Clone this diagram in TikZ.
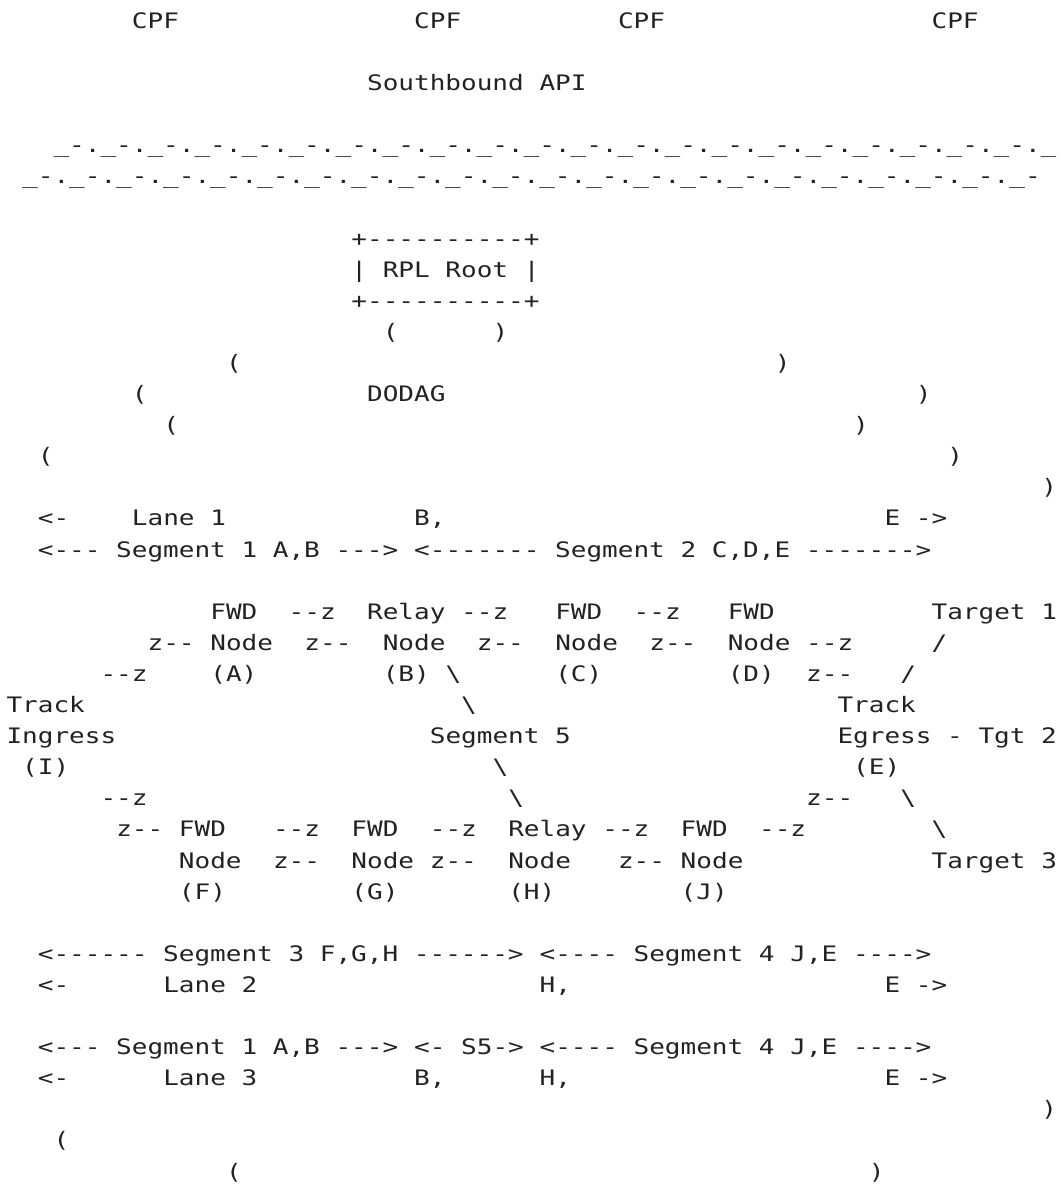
\documentclass[tikz,border=0pt]{standalone}
\usepackage{fontspec}
\newfontfamily\ascfam[FakeStretch=1.222]{DejaVu Sans Mono}
\definecolor{ink}{RGB}{34,34,34}
\newcounter{tkn}
\tikzset{asc/.style={anchor=base west,inner sep=0pt,outer sep=0pt,text=ink,
  font=\ascfam\fontsize{21.3}{25}\selectfont}}
\newcommand\tk[3]{\stepcounter{tkn}\node[asc] (tk\arabic{tkn}) at ({6.5+15.68*(#1)},{28.3+31.1*(#2)}) {#3};}
\newcommand\wv{\_-.}
\newcommand\bs{\textbackslash}
\begin{document}
\begin{tikzpicture}[x=1pt,y=-1pt]
\useasboundingbox[fill=white] (0,0) rectangle (1063,1189);
\clip (0,0) rectangle (1063,1189);
% row 0
\tk{8}{0}{CPF}\tk{26}{0}{CPF}\tk{39}{0}{CPF}\tk{59}{0}{CPF}
\tk{23}{2}{Southbound API}
\tk{3}{4}{\wv\wv\wv\wv\wv\wv\wv\wv\wv\wv\wv\wv\wv\wv\wv\wv\wv\wv\wv\wv\wv\_}
\tk{1}{5}{\wv\wv\wv\wv\wv\wv\wv\wv\wv\wv\wv\wv\wv\wv\wv\wv\wv\wv\wv\wv\wv\_-}
\tk{22}{7}{+----------+}
\tk{22}{8}{| RPL Root |}
\tk{22}{9}{+----------+}
\tk{24}{10}{(}\tk{31}{10}{)}
\tk{14}{11}{(}\tk{49}{11}{)}
\tk{8}{12}{(}\tk{23}{12}{DODAG}\tk{58}{12}{)}
\tk{10}{13}{(}\tk{54}{13}{)}
\tk{2}{14}{(}\tk{60}{14}{)}
\tk{66}{15}{)}
\tk{2}{16}{<-}\tk{8}{16}{Lane 1}\tk{26}{16}{B,}\tk{56}{16}{E ->}
\tk{2}{17}{<--- Segment 1 A,B --->}\tk{26}{17}{<------- Segment 2 C,D,E ------->}
% upper nodes
\tk{13}{19}{FWD}\tk{18}{19}{--z}\tk{23}{19}{Relay}\tk{29}{19}{--z}\tk{35}{19}{FWD}\tk{40}{19}{--z}\tk{46}{19}{FWD}\tk{59}{19}{Target 1}
\tk{9}{20}{z--}\tk{13}{20}{Node}\tk{19}{20}{z--}\tk{24}{20}{Node}\tk{30}{20}{z--}\tk{35}{20}{Node}\tk{41}{20}{z--}\tk{46}{20}{Node}\tk{51}{20}{--z}\tk{59}{20}{/}
\tk{6}{21}{--z}\tk{13}{21}{(A)}\tk{24}{21}{(B)}\tk{28}{21}{\bs}\tk{35}{21}{(C)}\tk{46}{21}{(D)}\tk{51}{21}{z--}\tk{57}{21}{/}
\tk{0}{22}{Track}\tk{29}{22}{\bs}\tk{53}{22}{Track}
\tk{0}{23}{Ingress}\tk{27}{23}{Segment 5}\tk{53}{23}{Egress - Tgt 2}
\tk{1}{24}{(I)}\tk{31}{24}{\bs}\tk{54}{24}{(E)}
\tk{6}{25}{--z}\tk{32}{25}{\bs}\tk{51}{25}{z--}\tk{57}{25}{\bs}
% lower nodes
\tk{7}{26}{z--}\tk{11}{26}{FWD}\tk{17}{26}{--z}\tk{22}{26}{FWD}\tk{27}{26}{--z}\tk{32}{26}{Relay}\tk{38}{26}{--z}\tk{43}{26}{FWD}\tk{48}{26}{--z}\tk{59}{26}{\bs}
\tk{11}{27}{Node}\tk{17}{27}{z--}\tk{22}{27}{Node}\tk{27}{27}{z--}\tk{32}{27}{Node}\tk{39}{27}{z--}\tk{43}{27}{Node}\tk{59}{27}{Target 3}
\tk{11}{28}{(F)}\tk{22}{28}{(G)}\tk{32}{28}{(H)}\tk{43}{28}{(J)}
% lanes 2 and 3
\tk{2}{30}{<------ Segment 3 F,G,H ------>}\tk{34}{30}{<---- Segment 4 J,E ---->}
\tk{2}{31}{<-}\tk{10}{31}{Lane 2}\tk{34}{31}{H,}\tk{56}{31}{E ->}
\tk{2}{33}{<--- Segment 1 A,B --->}\tk{26}{33}{<- S5->}\tk{34}{33}{<---- Segment 4 J,E ---->}
\tk{2}{34}{<-}\tk{10}{34}{Lane 3}\tk{26}{34}{B,}\tk{34}{34}{H,}\tk{56}{34}{E ->}
\tk{66}{35}{)}
\tk{3}{36}{(}
\tk{14}{37}{(}\tk{55}{37}{)}
\end{tikzpicture}
\end{document}
